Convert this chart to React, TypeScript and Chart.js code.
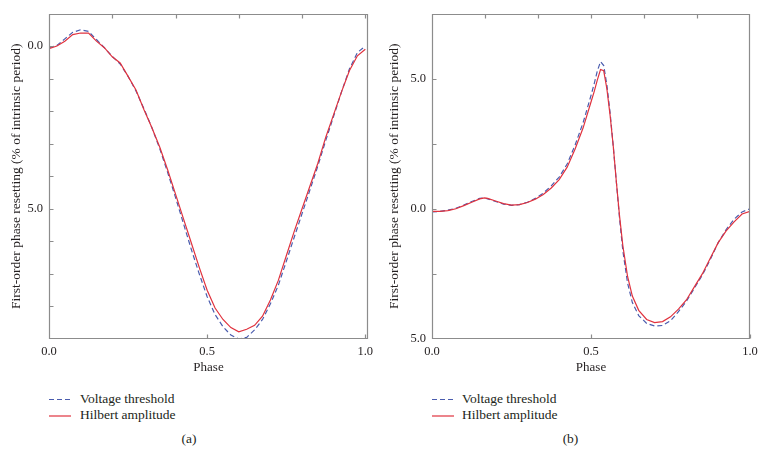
import React, { useEffect, useRef } from 'react';
import { Chart, registerables } from 'chart.js';

Chart.register(...registerables);

// ---------- data (a) ----------
const phaseA = [0, 0.025, 0.05, 0.075, 0.1, 0.125, 0.15, 0.175, 0.2, 0.225, 0.25, 0.275, 0.3, 0.325, 0.35, 0.375, 0.4, 0.425, 0.45, 0.475, 0.5, 0.525, 0.55, 0.575, 0.6, 0.625, 0.65, 0.675, 0.7, 0.725, 0.75, 0.775, 0.8, 0.825, 0.85, 0.875, 0.9, 0.925, 0.95, 0.975, 1.0];
const voltageA = [-0.05, 0.02, 0.22, 0.42, 0.5, 0.45, 0.2, -0.05, -0.32, -0.55, -0.93, -1.38, -1.92, -2.5, -3.15, -3.88, -4.65, -5.45, -6.25, -7.0, -7.7, -8.25, -8.62, -8.88, -9.0, -8.95, -8.72, -8.4, -7.92, -7.35, -6.62, -5.88, -5.15, -4.42, -3.68, -2.9, -2.15, -1.4, -0.7, -0.2, 0.0];
const hilbertA = [-0.08, 0.0, 0.15, 0.35, 0.4, 0.4, 0.15, -0.05, -0.33, -0.52, -0.93, -1.35, -1.95, -2.5, -3.1, -3.8, -4.55, -5.3, -6.05, -6.8, -7.5, -8.05, -8.4, -8.65, -8.78, -8.7, -8.58, -8.3, -7.8, -7.2, -6.45, -5.7, -5.0, -4.3, -3.6, -2.8, -2.1, -1.4, -0.75, -0.3, -0.1];

// ---------- data (b) ----------
const phaseB = [0, 0.025, 0.05, 0.075, 0.1, 0.125, 0.15, 0.165, 0.175, 0.2, 0.225, 0.25, 0.275, 0.3, 0.325, 0.35, 0.375, 0.4, 0.425, 0.45, 0.475, 0.5, 0.51, 0.52, 0.53, 0.54, 0.55, 0.56, 0.57, 0.58, 0.59, 0.6, 0.615, 0.63, 0.65, 0.675, 0.7, 0.725, 0.75, 0.775, 0.8, 0.825, 0.85, 0.875, 0.9, 0.925, 0.95, 0.975, 1.0];
const voltageB = [-0.12, -0.1, -0.05, 0.02, 0.14, 0.28, 0.4, 0.42, 0.38, 0.28, 0.18, 0.13, 0.16, 0.25, 0.4, 0.6, 0.88, 1.22, 1.72, 2.45, 3.3, 4.35, 4.8, 5.3, 5.65, 5.5, 4.75, 3.7, 2.4, 1.0, -0.4, -1.6, -2.85, -3.6, -4.1, -4.4, -4.5, -4.48, -4.3, -3.95, -3.55, -3.05, -2.55, -1.95, -1.3, -0.8, -0.4, -0.12, 0.0];
const hilbertB = [-0.1, -0.1, -0.07, 0.0, 0.12, 0.25, 0.38, 0.42, 0.4, 0.3, 0.2, 0.14, 0.16, 0.24, 0.37, 0.55, 0.8, 1.12, 1.6, 2.3, 3.1, 4.1, 4.5, 4.95, 5.35, 5.3, 4.6, 3.6, 2.4, 1.0, -0.3, -1.4, -2.6, -3.35, -3.9, -4.25, -4.37, -4.33, -4.15, -3.85, -3.5, -3.0, -2.5, -1.9, -1.3, -0.85, -0.5, -0.2, -0.1];

// ---------- ticks ----------
const xLabelTicks = [0, 0.5, 1.0];
const yLabelTicksA = [0, -5];
const yMinorTicksA = [-8, -7, -6, -5, -4, -3, -2, -1, 0];
const topTicksA = [0.2, 0.4, 0.6, 0.8, 1.0];
const yLabelTicksB = [5, 0, -5];
const yMinorTicksB = [5, 2.5, 0, -2.5];
const topTicksB = [0.1667, 0.3333, 0.5, 0.6667, 0.8333];

const seriesNames = ['Voltage threshold', 'Hilbert amplitude'];
const xTitle = 'Phase';
const yTitle = 'First-order phase resetting (% of intrinsic period)';

const BLUE = '#4a5cae';
const RED = '#e0323e';
const FRAME = '#8c8c8c';
const TEXT = '#231f20';
const FONT = "'Liberation Serif', 'Times New Roman', 'DejaVu Serif', serif";

const frameTicks = {
  id: 'frameTicks',
  afterDatasetsDraw(chart: any, _args: any, opts: any) {
    const { ctx, chartArea, scales } = chart;
    const l = Math.round(chartArea.left) + 0.5;
    const r = Math.round(chartArea.right) - 0.5;
    const t = Math.round(chartArea.top) + 0.5;
    const b = Math.round(chartArea.bottom) - 0.5;
    const TL = 4;
    ctx.save();
    ctx.strokeStyle = FRAME;
    ctx.lineWidth = 1.2;
    ctx.beginPath();
    ctx.rect(l, t, r - l, b - t);
    for (const v of opts.yMinor || []) {
      const py = Math.round(scales.y.getPixelForValue(v)) + 0.5;
      ctx.moveTo(l, py);
      ctx.lineTo(l + TL, py);
    }
    for (const v of opts.xBottom || []) {
      const px = Math.round(scales.x.getPixelForValue(v)) + 0.5;
      ctx.moveTo(px, b);
      ctx.lineTo(px, b - TL);
    }
    for (const v of opts.xTop || []) {
      const px = Math.round(scales.x.getPixelForValue(v)) + 0.5;
      ctx.moveTo(px, t);
      ctx.lineTo(px, t + TL);
    }
    ctx.stroke();
    ctx.restore();
  },
};

type PanelProps = {
  phase: number[];
  voltage: number[];
  hilbert: number[];
  yMin: number;
  yMax: number;
  xMax: number;
  yLabels: number[];
  yMinor: number[];
  topTicks: number[];
  titlePad: number;
  left: number;
  width: number;
  axisWidth: number;
  padRight: number;
};

function Panel(p: PanelProps) {
  const ref = useRef<HTMLCanvasElement | null>(null);
  useEffect(() => {
    if (!ref.current) return;
    const fmt = (v: any) => Math.abs(Number(v)).toFixed(1);
    const chart = new Chart(ref.current, {
      type: 'line',
      data: {
        datasets: [
          {
            label: seriesNames[0],
            data: p.phase.map((x, i) => ({ x, y: p.voltage[i] })),
            borderColor: BLUE,
            borderWidth: 1.2,
            borderDash: [5, 3],
            pointRadius: 0,
            fill: false,
            order: 1,
          },
          {
            label: seriesNames[1],
            data: p.phase.map((x, i) => ({ x, y: p.hilbert[i] })),
            borderColor: RED,
            borderWidth: 1.2,
            pointRadius: 0,
            fill: false,
            order: 0,
          },
        ],
      },
      options: {
        animation: false,
        responsive: true,
        maintainAspectRatio: false,
        layout: { padding: { left: 0, top: 9, right: p.padRight, bottom: 5 } },
        plugins: {
          legend: { display: false },
          tooltip: { enabled: false },
          frameTicks: { yMinor: p.yMinor, xBottom: xLabelTicks, xTop: p.topTicks },
        } as any,
        scales: {
          x: {
            type: 'linear',
            min: 0,
            max: p.xMax,
            grid: { display: false, drawTicks: false },
            border: { display: false },
            afterBuildTicks: (s: any) => {
              s.ticks = xLabelTicks.map((v) => ({ value: v }));
            },
            afterFit: (s: any) => {
              s.height = 36;
            },
            ticks: {
              autoSkip: false,
              maxRotation: 0,
              padding: 5,
              color: TEXT,
              font: { family: FONT, size: 12.5 },
              callback: fmt,
            },
            title: {
              display: true,
              text: xTitle,
              color: TEXT,
              padding: { top: 0, bottom: 0 },
              font: { family: FONT, size: 13 },
            },
          },
          y: {
            type: 'linear',
            min: p.yMin,
            max: p.yMax,
            grid: { display: false, drawTicks: false },
            border: { display: false },
            afterBuildTicks: (s: any) => {
              s.ticks = p.yLabels.map((v) => ({ value: v }));
            },
            afterFit: (s: any) => {
              s.width = p.axisWidth;
            },
            ticks: {
              autoSkip: false,
              padding: 6,
              color: TEXT,
              font: { family: FONT, size: 12.5 },
              callback: fmt,
            },
            title: {
              display: true,
              text: yTitle,
              color: TEXT,
              padding: { top: p.titlePad, bottom: 0 },
              font: { family: FONT, size: 13.5 },
            },
          },
        },
      },
      plugins: [frameTicks],
    });
    return () => chart.destroy();
  }, []);
  return (
    <div style={{ position: 'absolute', left: p.left, top: 0, width: p.width, height: 380 }}>
      <canvas ref={ref} />
    </div>
  );
}

function LegendBlock(props: { lineLeft: number; textLeft: number; captionCenter: number; caption: string }) {
  const { lineLeft, textLeft, captionCenter, caption } = props;
  const textStyle: React.CSSProperties = {
    position: 'absolute',
    fontFamily: FONT,
    fontSize: 13.5,
    lineHeight: '15px',
    color: TEXT,
    whiteSpace: 'nowrap',
  };
  return (
    <>
      <svg style={{ position: 'absolute', left: lineLeft, top: 392, overflow: 'visible' }} width={24} height={30}>
        <line x1={0} y1={7.5} x2={22} y2={7.5} stroke={BLUE} strokeWidth={1.2} strokeDasharray="5 3" />
        <line x1={0} y1={24} x2={22} y2={24} stroke={RED} strokeWidth={1.2} />
      </svg>
      <div style={{ ...textStyle, left: textLeft, top: 391 }}>{seriesNames[0]}</div>
      <div style={{ ...textStyle, left: textLeft, top: 407 }}>{seriesNames[1]}</div>
      <div style={{ ...textStyle, left: captionCenter - 30, width: 60, textAlign: 'center', top: 431 }}>{caption}</div>
    </>
  );
}

export default function App() {
  return (
    <div style={{ position: 'fixed', left: 0, top: 0, width: 765, height: 467, background: '#fff', overflow: 'hidden' }}>
      <Panel
        phase={phaseA}
        voltage={voltageA}
        hilbert={hilbertA}
        yMin={-9}
        yMax={1}
        xMax={1.0085}
        yLabels={yLabelTicksA}
        yMinor={yMinorTicksA}
        topTicks={topTicksA}
        titlePad={8.5}
        left={0}
        width={380}
        axisWidth={49}
        padRight={12}
      />
      <Panel
        phase={phaseB}
        voltage={voltageB}
        hilbert={hilbertB}
        yMin={-5}
        yMax={7.5}
        xMax={1.0}
        yLabels={yLabelTicksB}
        yMinor={yMinorTicksB}
        topTicks={topTicksB}
        titlePad={4.8}
        left={382}
        width={383}
        axisWidth={50}
        padRight={15}
      />
      <LegendBlock lineLeft={49} textLeft={80} captionCenter={189} caption="(a)" />
      <LegendBlock lineLeft={432} textLeft={462} captionCenter={570.5} caption="(b)" />
    </div>
  );
}
